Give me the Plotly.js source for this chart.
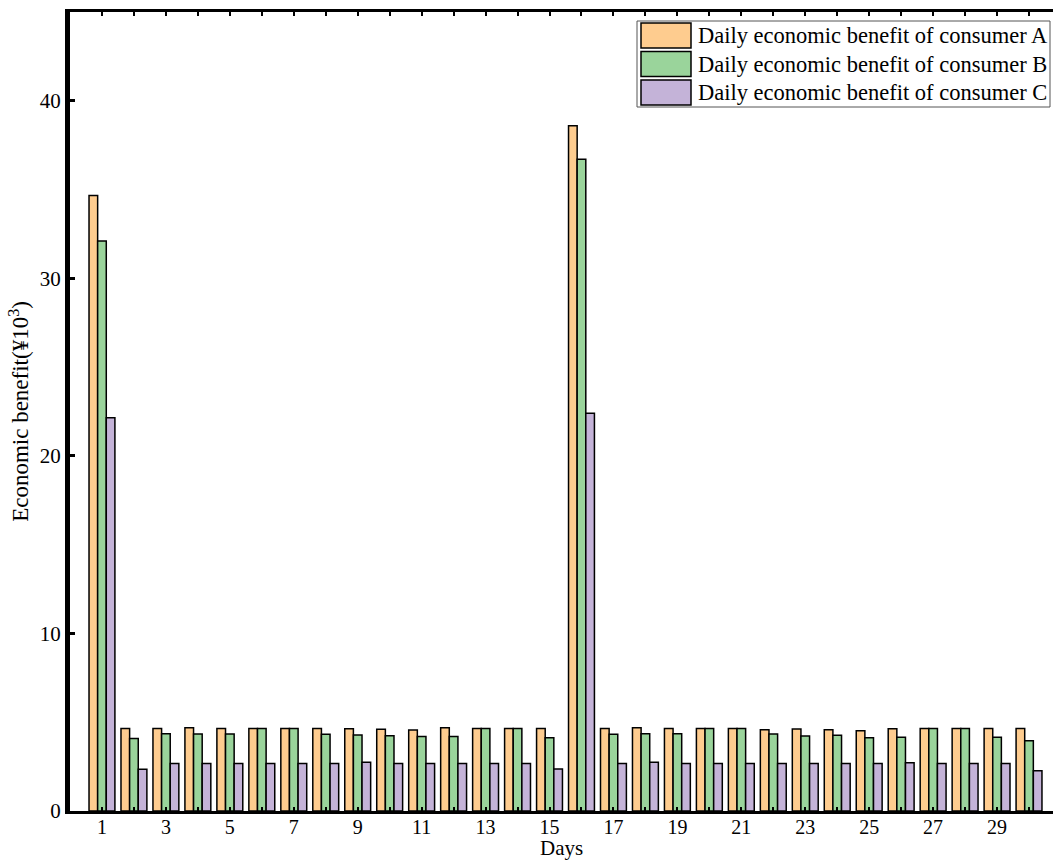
<!DOCTYPE html>
<html>
<head>
<meta charset="utf-8">
<script src="https://cdn.plot.ly/plotly-3.0.1.min.js"></script>
<style>
html,body{margin:0;padding:0;background:#fff;}
#chart{width:1053px;height:861px;}
</style>
</head>
<body>
<div id="chart"></div>
<script>
// ---- data ----
const days = [1,2,3,4,5,6,7,8,9,10,11,12,13,14,15,16,17,18,19,20,21,22,23,24,25,26,27,28,29,30];
const seriesNames = [
  "Daily economic benefit of consumer A",
  "Daily economic benefit of consumer B",
  "Daily economic benefit of consumer C"
];
const consumerA = [34.66,4.65,4.65,4.69,4.65,4.65,4.65,4.65,4.63,4.60,4.56,4.69,4.65,4.65,4.65,38.6,4.65,4.69,4.65,4.65,4.65,4.58,4.62,4.58,4.52,4.63,4.65,4.65,4.65,4.65];
const consumerB = [32.1,4.09,4.35,4.34,4.34,4.65,4.65,4.32,4.28,4.24,4.20,4.20,4.65,4.65,4.13,36.7,4.32,4.35,4.35,4.65,4.65,4.34,4.22,4.26,4.13,4.15,4.65,4.65,4.15,3.96];
const consumerC = [22.15,2.35,2.67,2.67,2.67,2.67,2.67,2.67,2.74,2.67,2.67,2.67,2.67,2.67,2.37,22.4,2.67,2.74,2.67,2.67,2.67,2.67,2.67,2.67,2.67,2.72,2.67,2.67,2.67,2.26];
const tickLabels = days.map(d => (d % 2 === 1 ? String(d) : ""));
const yTicks = [0,10,20,30,40];
const xTitle = "Days";
const yTitle = "Economic benefit(¥10<sup>3</sup>)";

// ---- style ----
const colors = ["#FECC8F", "#9AD49B", "#C4B3D8"];
const FONT = "'Liberation Serif', 'Times New Roman', 'DejaVu Serif', serif";
const values = [consumerA, consumerB, consumerC];

const traces = values.map((v, i) => ({
  type: "bar",
  x: days,
  y: v,
  name: seriesNames[i],
  marker: {color: colors[i], line: {color: "#000", width: 1.5}},
  showlegend: false,
  hoverinfo: "x+y"
}));

// plot area geometry (pixels) for legend placement
const L = 70, T = 12, W = 1053 - 70, H = 861 - 12 - 50;
const px = x => (x - L) / W;
const py = y => (T + H - y) / H;

const shapes = [{
  type: "rect", xref: "paper", yref: "paper",
  x0: px(637), x1: px(1050), y0: py(107), y1: py(21),
  line: {color: "#555", width: 1}, fillcolor: "#fff"
}];
const annotations = [];
seriesNames.forEach((n, i) => {
  const top = 23 + i * 28.5;
  shapes.push({
    type: "rect", xref: "paper", yref: "paper",
    x0: px(641), x1: px(691), y0: py(top + 25), y1: py(top),
    line: {color: "#000", width: 1.5}, fillcolor: colors[i]
  });
  annotations.push({
    xref: "paper", yref: "paper", x: px(696), y: py(top + 12.5),
    xanchor: "left", yanchor: "middle", showarrow: false,
    text: n, font: {family: FONT, size: 22.5, color: "#000"}
  });
});
// x-axis title placed at the bottom of the figure
annotations.push({
  xref: "paper", yref: "paper", x: 0.5, y: py(862),
  xanchor: "center", yanchor: "bottom", showarrow: false,
  text: xTitle, font: {family: FONT, size: 21, color: "#000"}
});

const layout = {
  width: 1053, height: 861,
  margin: {l: L, r: 0, t: T, b: 50, pad: 0},
  paper_bgcolor: "#fff", plot_bgcolor: "#fff",
  font: {family: FONT, size: 21, color: "#000"},
  barmode: "group",
  bargap: 0.19,
  bargroupgap: 0,
  xaxis: {
    range: [0, 30.75],
    tickmode: "array", tickvals: days, ticktext: tickLabels,
    ticks: "inside", ticklen: 4, tickwidth: 2, tickcolor: "#000",
    ticklabelstandoff: -4,
    showline: true, linecolor: "#000", linewidth: 3, mirror: "ticks",
    showgrid: false, zeroline: false,
    tickfont: {family: FONT, size: 20},
    automargin: false
  },
  yaxis: {
    range: [0, 45],
    tickmode: "array", tickvals: yTicks, ticktext: yTicks.map(String),
    ticks: "inside", ticklen: 5, tickwidth: 3, tickcolor: "#000",
    showline: true, linecolor: "#000", linewidth: 5,
    showgrid: false, zeroline: false,
    tickfont: {family: FONT, size: 21},
    automargin: false,
    title: {text: yTitle, font: {family: FONT, size: 23}, standoff: 6}
  },
  shapes: shapes,
  annotations: annotations
};

Plotly.newPlot("chart", traces, layout, {displayModeBar: false, staticPlot: true});
</script>
</body>
</html>
